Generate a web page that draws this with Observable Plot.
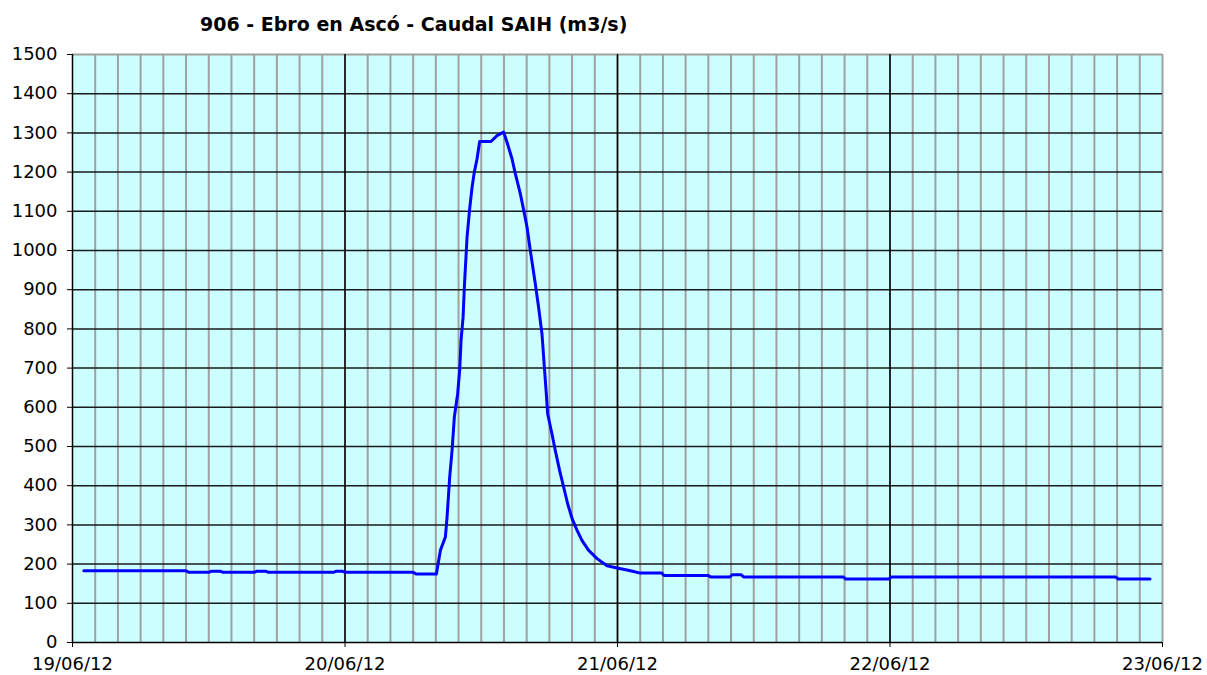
<!DOCTYPE html>
<html><head><meta charset="utf-8">
<script src="https://cdn.jsdelivr.net/npm/d3@7"></script>
<script src="https://cdn.jsdelivr.net/npm/@observablehq/plot@0.6"></script>
<style>body{margin:0;background:#fff;}</style>
</head><body><div id="chart"></div>
<script>
const title = "906 - Ebro en Ascó - Caudal SAIH (m3/s)";
// hours since 19/06/12 00:00
const hours = [1.0, 10.0, 10.25, 12.0, 12.25, 13.0, 13.25, 16.0, 16.25, 17.0, 17.25, 23.0, 23.25, 23.75, 24.0, 30.0, 30.25, 32.05,
  32.4, 32.84, 32.99, 33.22, 33.43, 33.63, 33.92, 34.1, 34.22, 34.4, 34.51, 34.75, 34.98, 35.19, 35.39, 35.63, 35.86,
  36.86, 37.39, 37.97, 38.27, 38.71, 39.0, 39.44, 39.8, 40.03, 40.32, 40.76, 41.05, 41.35, 41.56, 41.73, 41.85,
  42.23, 42.52, 42.9, 43.26, 43.61, 44.0, 44.44, 44.88, 45.46, 46.2, 47.08, 47.96, 48.84, 49.42, 50.0,
  51.9, 52.1, 56.0, 56.2, 57.9, 58.1, 58.9, 59.1, 67.9, 68.1, 71.9, 72.1, 91.9, 92.1, 94.9];
const caudal = [183, 183, 179, 179, 182, 182, 179, 179, 182, 182, 179, 179, 182, 182, 179, 179, 175, 175,
  235, 269, 320, 422, 490, 575, 634, 694, 770, 830, 906, 1034, 1106, 1161, 1200, 1234, 1278,
  1278, 1293, 1302, 1276, 1234, 1196, 1145, 1094, 1060, 1000, 915, 855, 787, 702, 634, 583,
  532, 490, 439, 396, 354, 316, 286, 260, 235, 214, 196, 190, 185, 181, 177,
  177, 171, 171, 167, 167, 173, 173, 167, 167, 162, 162, 167, 167, 162, 162];
const dayTicks = ["2012-06-19", "2012-06-20", "2012-06-21", "2012-06-22", "2012-06-23"];
const dayLabels = ["19/06/12", "20/06/12", "21/06/12", "22/06/12", "23/06/12"];
const yTicks = [0, 100, 200, 300, 400, 500, 600, 700, 800, 900, 1000, 1100, 1200, 1300, 1400, 1500];

const t0 = Date.UTC(2012, 5, 19);
const data = hours.map((h, i) => ({t: new Date(t0 + h * 3600e3), v: caudal[i]}));
const days = dayTicks.map(d => new Date(d + "T00:00:00Z"));
const labelOf = new Map(days.map((d, i) => [+d, dayLabels[i]]));
const minor = d3.utcHour.every(2).range(days[0], days[4]).slice(1).concat([days[4]]);

const svg = Plot.plot({
  width: 1207, height: 675,
  marginLeft: 72, marginRight: 45, marginTop: 54, marginBottom: 33,
  style: {fontFamily: "DejaVu Sans, Verdana, sans-serif", fontSize: "18px", color: "#000", background: "#fff"},
  x: {type: "utc", domain: [days[0], days[4]]},
  y: {domain: [0, 1500]},
  marks: [
    Plot.frame({fill: "#CCFFFF", stroke: "none"}),
    Plot.ruleX(minor, {stroke: "#a0a0a0", strokeWidth: 2}),
    Plot.ruleY(yTicks.slice(1, -1), {stroke: "#1a1a1a", strokeWidth: 1.5}),
    Plot.ruleY([1500], {stroke: "#a0a0a0", strokeWidth: 2}),
    Plot.ruleX(days.slice(1, 4), {stroke: "#000", strokeWidth: 1.5}),
    Plot.line(data, {x: "t", y: "v", stroke: "#0000ff", strokeWidth: 3, strokeLinejoin: "round"}),
    Plot.ruleY([0], {stroke: "#000", strokeWidth: 1.5}),
    Plot.ruleX([days[0]], {stroke: "#000", strokeWidth: 1.5}),
    Plot.axisX(days, {tickSize: 5, tickPadding: 10, fontSize: 18, tickFormat: d => labelOf.get(+d), stroke: "#000", label: null}),
    Plot.axisY(yTicks, {tickSize: 5, tickPadding: 10, fontSize: 18, tickFormat: d => String(d), stroke: "#000", label: null})
  ]
});
d3.select(svg).append("text")
  .attr("x", 200).attr("y", 31)
  .attr("text-anchor", "start")
  .attr("font-family", "DejaVu Sans, Verdana, sans-serif")
  .attr("font-weight", "bold").attr("font-size", 19)
  .attr("fill", "#000")
  .text(title);
document.getElementById("chart").appendChild(svg);
</script>
</body></html>
